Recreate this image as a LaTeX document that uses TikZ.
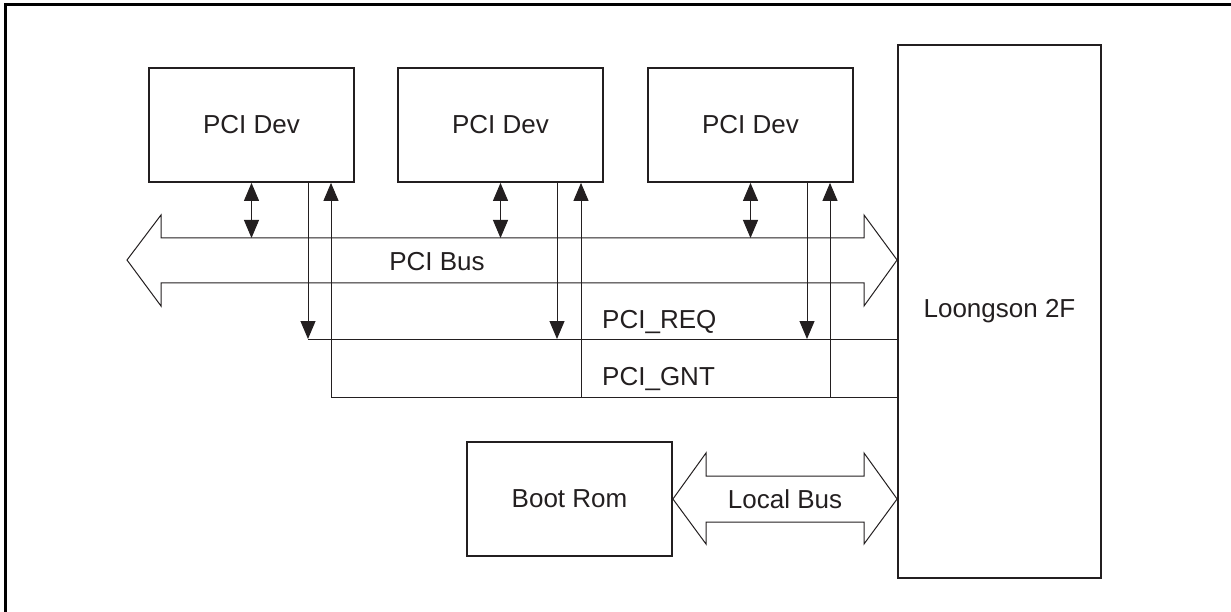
\documentclass[tikz,border=0pt]{standalone}
\usepackage{fontspec}
\setmainfont{Liberation Sans}
\usetikzlibrary{arrows.meta}
\definecolor{ink}{HTML}{231F20}
\begin{document}
\begin{tikzpicture}[x=1pt,y=-1pt,
  boxstyle/.style={draw=ink,line width=1.8pt,inner sep=0pt,font=\fontsize{26}{30}\selectfont,text=ink},
  devbox/.style={boxstyle,minimum width=205pt,minimum height=114pt},
  thin/.style={draw=ink,line width=1pt},
  tip/.style={-{Triangle[width=15pt,length=18pt]}},
  bitip/.style={{Triangle[width=15pt,length=18pt]}-{Triangle[width=15pt,length=18pt]}},
  lbl/.style={font=\fontsize{26}{30}\selectfont,text=ink,inner sep=0pt}]
\useasboundingbox (0,0) rectangle (1231,612);
% outer frame (open right and bottom)
\draw[line width=3pt,black] (1231,5) -- (5,5) -- (5,612);
% nodes
\node[devbox] (d1) at (251.5,125) {PCI Dev};
\node[devbox] (d2) at (500.5,125) {PCI Dev};
\node[devbox] (d3) at (750.5,125) {PCI Dev};
\node[boxstyle,minimum width=203pt,minimum height=533pt] (cpu) at (999.5,311.5) {Loongson 2F};
\node[boxstyle,minimum width=205pt,minimum height=114pt] (rom) at (569.5,499) {Boot Rom};
% PCI bus double arrow
\coordinate (busL) at (127,260);
\coordinate (bustop) at (500,238);
\draw[thin,line join=miter] (busL) -- (161,215) -- (161,238) -- (864,238) -- (864,215)
  -- (cpu.west |- busL) -- (864,306) -- (864,283) -- (161,283) -- (161,306) -- cycle;
\node[lbl] (pcibus) at (437,262) {PCI Bus};
% bidirectional device-bus arrows
\foreach \d in {d1,d2,d3}{
  \draw[thin,bitip] (\d.south) -- (\d.south |- bustop);
}
% REQ / GNT
\coordinate (r1) at (308,339);
\coordinate (r2) at (557,339);
\coordinate (r3) at (807,339);
\coordinate (g1) at (331,397);
\coordinate (g2) at (581,397);
\coordinate (g3) at (830,397);
\draw[thin] (r1) -- (r1 -| cpu.west);
\draw[thin] (g1) -- (g1 -| cpu.west);
\draw[thin,tip] (d1.south -| r1) -- (r1);
\draw[thin,tip] (d2.south -| r2) -- (r2);
\draw[thin,tip] (d3.south -| r3) -- (r3);
\draw[thin,tip] (g1) -- (d1.south -| g1);
\draw[thin,tip] (g2) -- (d2.south -| g2);
\draw[thin,tip] (g3) -- (d3.south -| g3);
\node[lbl,anchor=base west] (req) at (602,328) {PCI\_REQ};
\node[lbl,anchor=base west] (gnt) at (602,385) {PCI\_GNT};
% Local bus double arrow
\draw[thin,line join=miter] (rom.east) -- (706,453) -- (706,476) -- (864,476) -- (864,453)
  -- (cpu.west |- rom.east) -- (864,544) -- (864,522) -- (706,522) -- (706,544) -- cycle;
\node[lbl] (lbus) at (785,499) {Local Bus};
\end{tikzpicture}
\end{document}
